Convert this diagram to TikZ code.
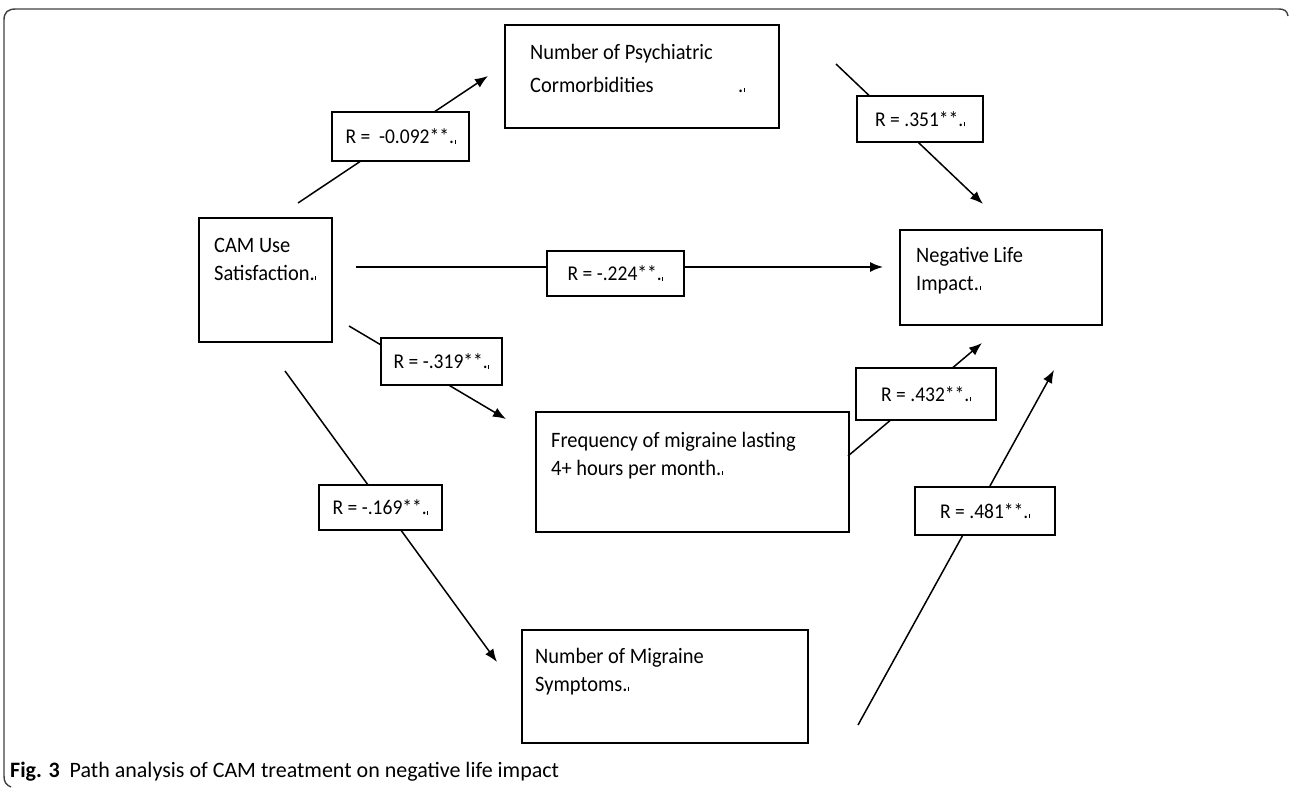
\documentclass[tikz,border=0pt]{standalone}
\usepackage{fontspec}
\setmainfont[FakeStretch=0.93]{Carlito}
\newfontfamily\capfont{Carlito}
\usetikzlibrary{arrows.meta}
\newcommand\pmk{.\kern0.6pt\rule[0pt]{0.9pt}{4pt}}
\begin{document}
\begin{tikzpicture}[x=1pt,y=-1pt,
  box/.style={draw,line width=1.6pt,inner sep=0pt},
  lbl/.style={draw,line width=1.6pt,fill=white,inner sep=0pt,font=\fontsize{21}{24}\selectfont},
  txt/.style={anchor=base west,inner sep=0pt,font=\fontsize{22}{24}\selectfont},
  arr/.style={line width=1.5pt,-{Latex[length=13pt,width=10pt]}},
  frame/.style={line width=1.4pt,draw=black!75}]
\useasboundingbox (0,0) rectangle (1290,787);
% frame
\draw[frame] (1288,16) .. controls (1287,11) and (1285,9) .. (1278,9) -- (16,9)
  .. controls (8,9) and (4,12) .. (4,20) -- (4,776) .. controls (4,782) and (6,785) .. (11,787);
% boxes
\node[box,minimum width=274pt,minimum height=103pt] (psy) at (642,76.5) {};
\node[box,minimum width=133pt,minimum height=124pt] (cam) at (265.5,280) {};
\node[box,minimum width=202pt,minimum height=95pt] (neg) at (1001,277.5) {};
\node[box,minimum width=313pt,minimum height=120pt] (freq) at (692.5,472) {};
\node[box,minimum width=286pt,minimum height=113pt] (sym) at (665,686.5) {};
% box texts
\node[txt] (psyt1) at (530,59) {Number of Psychiatric};
\node[txt] (psyt2) at (530,92) {Cormorbidities};
\node[txt] (psyt3) at (738,92) {\pmk};
\node[txt] (camt1) at (214,252) {CAM Use};
\node[txt] (camt2) at (214,280) {Satisfaction\pmk};
\node[txt] (negt1) at (916,262) {Negative Life};
\node[txt] (negt2) at (916,290) {Impact\pmk};
\node[txt] (freqt1) at (551,447) {Frequency of migraine lasting};
\node[txt] (freqt2) at (551,475) {4+ hours per month\pmk};
\node[txt] (symt1) at (535,663) {Number of Migraine};
\node[txt] (symt2) at (535,691) {Symptoms\pmk};
% connector end points
\coordinate (a1) at (298,203); \coordinate (b1) at (488,76);
\coordinate (a2) at (836,64);  \coordinate (b2) at (983,204);
\coordinate (a3) at (356,267); \coordinate (b3) at (883,267);
\coordinate (a4) at (349,326); \coordinate (b4) at (506,419);
\coordinate (a5) at (848,456); \coordinate (b5) at (982,343);
\coordinate (a6) at (285,371); \coordinate (b6) at (497,662);
\coordinate (a7) at (858,725); \coordinate (b7) at (1054,370);
\draw[arr] (a1) -- (b1);
\draw[arr] (a2) -- (b2);
\draw[arr] (a3) -- (b3);
\draw[arr] (a4) -- (b4);
\draw[arr] (a5) -- (b5);
\draw[arr] (a6) -- (b6);
\draw[arr] (a7) -- (b7);
% labels
\node[lbl,minimum width=137pt,minimum height=49pt] (l1) at (400.5,136.5) {R =\ \ -0.092**\pmk};
\node[lbl,minimum width=126pt,minimum height=46pt] (l2) at (920,119) {R = .351**\pmk};
\node[lbl,minimum width=137pt,minimum height=45pt] (l3) at (615.5,273.5) {R = -.224**\pmk};
\node[lbl,minimum width=121pt,minimum height=47pt] (l4) at (441.5,361.5) {R = -.319**\pmk};
\node[lbl,minimum width=140pt,minimum height=52pt] (l5) at (926,394) {R = .432**\pmk};
\node[lbl,minimum width=123pt,minimum height=45pt] (l6) at (380.5,507.5) {R = -.169**\pmk};
\node[lbl,minimum width=140pt,minimum height=48pt] (l7) at (985,511) {R = .481**\pmk};
% caption
\node[anchor=base west,inner sep=0pt,font=\capfont\fontsize{22}{24}\selectfont] (cap) at (10,777)
  {\textbf{Fig. 3}\ \ Path analysis of CAM treatment on negative life impact};
\end{tikzpicture}
\end{document}
